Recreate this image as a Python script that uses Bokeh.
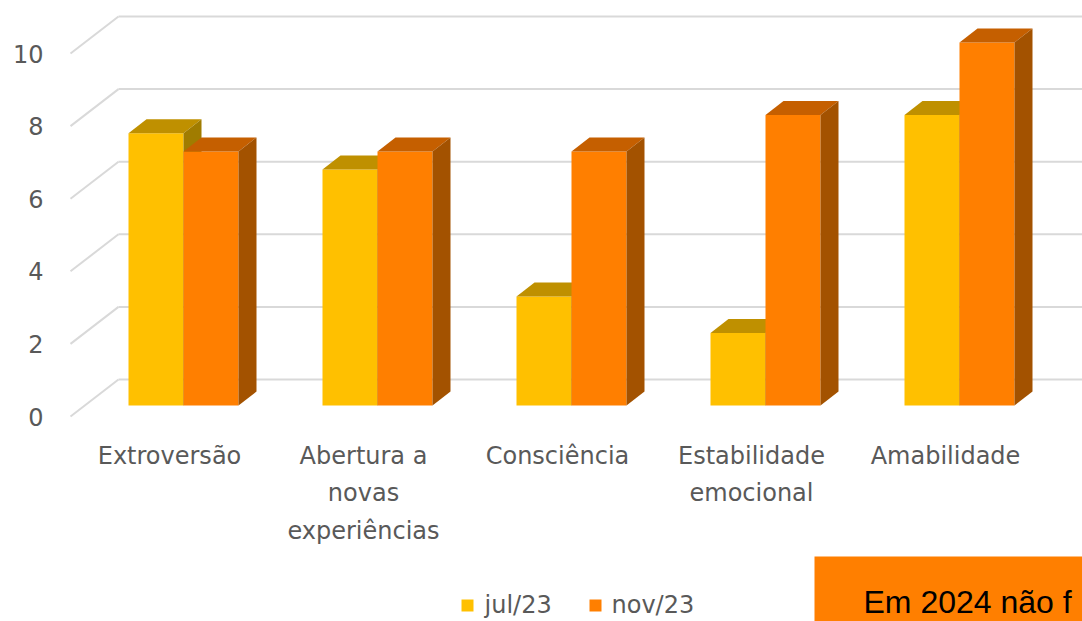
from bokeh.plotting import figure
from bokeh.models import Range1d
from bokeh.core.properties import value
from bokeh.embed import file_html
from bokeh.resources import INLINE

# ---------------- data ----------------
categories = ["Extroversão", "Abertura a\nnovas\nexperiências", "Consciência",
              "Estabilidade\nemocional", "Amabilidade"]
series_names = ["jul/23", "nov/23"]
jul23 = [7.5, 6.5, 3.0, 2.0, 8.0]
nov23 = [7.0, 7.0, 7.0, 8.0, 10.0]
y_ticks = [0, 2, 4, 6, 8, 10]
tick_labels = ["0", "2", "4", "6", "8", "10"]
note_text = "Em 2024 não f"

# ---------------- layout ----------------
W, H = 1082, 621
CX0, CDX = 183.0, 194.0      # image px of first category center, px per category
Y0, DY = 405.0, 36.3          # image px of value 0, px per unit


def ux(px):   # image px -> x units
    return (px - CX0) / CDX


def uy(py):   # image px -> value units
    return (Y0 - py) / DY


p = figure(width=W, height=H, output_backend="svg", toolbar_location=None,
           x_range=Range1d(ux(0), ux(W)),
           y_range=Range1d(uy(H), uy(0)),
           min_border=0)
p.axis.visible = False
p.grid.visible = False
p.outline_line_color = None
p.background_fill_color = "white"
p.border_fill_color = "white"

FONT = value("DejaVu Sans")
FS = "24px"
GRID = "#D9D9D9"
TXT = "#595959"

# walls: back gridlines and side diagonals
back_dy = 26 / DY
front_dy = -11 / DY
x_front = ux(70)
x_back = ux(118)
x_end = ux(W + 10)
p.segment(x0=[x_back] * len(y_ticks), y0=[v + back_dy for v in y_ticks],
          x1=[x_end] * len(y_ticks), y1=[v + back_dy for v in y_ticks],
          line_color=GRID, line_width=2)
p.segment(x0=[x_front] * len(y_ticks), y0=[v + front_dy for v in y_ticks],
          x1=[x_back] * len(y_ticks), y1=[v + back_dy for v in y_ticks],
          line_color=GRID, line_width=2)

# tick labels
p.text(x=[ux(43)] * len(y_ticks), y=[v + front_dy for v in y_ticks], text=tick_labels,
       text_align="right", text_baseline="middle", text_color=TXT,
       text_font=FONT, text_font_size=FS)

# 3D bars
bw = 55 / CDX
ddx = 18 / CDX
ddy = 14 / DY
colors = [("#FFC000", "#BF9000", "#A07C00"), ("#FF7F00", "#C55F00", "#A35200")]
for s, vals in enumerate([jul23, nov23]):
    front, top, side = colors[s]
    xl = [i - bw + s * bw for i in range(len(vals))]
    xr = [x + bw for x in xl]
    p.quad(left=xl, right=xr, bottom=[0] * len(vals), top=vals,
           fill_color=front, line_color=None)
    p.patches(xs=[[a, b, b + ddx, a + ddx] for a, b in zip(xl, xr)],
              ys=[[v, v, v + ddy, v + ddy] for v in vals],
              fill_color=top, line_color=None)
    p.patches(xs=[[b, b + ddx, b + ddx, b] for b in xr],
              ys=[[0, ddy, v + ddy, v] for v in vals],
              fill_color=side, line_color=None)

# category labels (one text per line)
lab_x, lab_y, lab_t = [], [], []
for i, cat in enumerate(categories):
    for k, line in enumerate(cat.split("\n")):
        lab_x.append(i - 14 / CDX)
        lab_y.append(uy(455 + 37.5 * k))
        lab_t.append(line)
p.text(x=lab_x, y=lab_y, text=lab_t, text_align="center", text_baseline="middle",
       text_color=TXT, text_font=FONT, text_font_size=FS)

# legend
leg_y = uy(605)
p.scatter(x=[ux(467), ux(595)], y=[leg_y, leg_y], marker="square", size=12,
          fill_color=[colors[0][0], colors[1][0]], line_color=None)
p.text(x=[ux(484), ux(611)], y=[uy(604), uy(604)], text=series_names,
       text_align="left", text_baseline="middle", text_color=TXT,
       text_font=FONT, text_font_size=FS)

# orange note box
p.quad(left=[ux(814)], right=[x_end], bottom=[uy(H + 20)], top=[uy(556)],
       fill_color="#FF7F00", line_color=None)
p.text(x=[ux(863)], y=[uy(601)], text=[note_text], text_align="left",
       text_baseline="middle", text_color="black",
       text_font=value("Liberation Sans"), text_font_size="32px")

open("out.html", "w").write(file_html(p, INLINE))
